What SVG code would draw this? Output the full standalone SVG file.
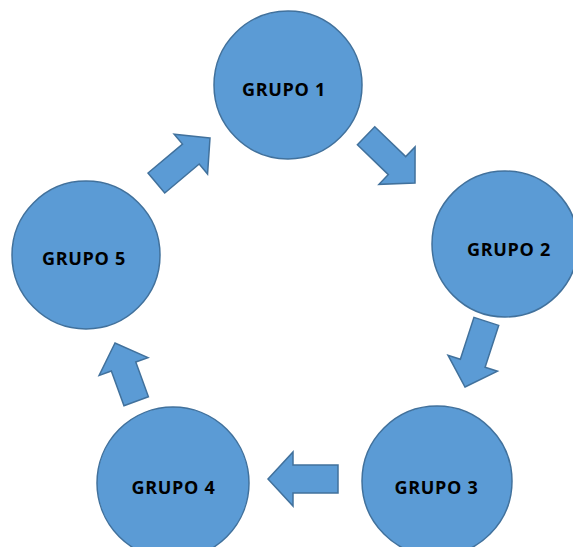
<svg xmlns="http://www.w3.org/2000/svg" width="573" height="547" viewBox="0 0 573 547">
  <defs>
    <style>
      .node circle { fill: #5B9BD5; stroke: #41719C; stroke-width: 1.5; }
      .node text { font-family: "Open Sans", "Liberation Sans", Arial, sans-serif; font-weight: bold; font-size: 18px; letter-spacing: 0.7px; fill: #000; text-anchor: middle; }
      .arrow { fill: #5B9BD5; stroke: #41719C; stroke-width: 1.5; stroke-linejoin: miter; }
    </style>
  </defs>
  <rect width="573" height="547" fill="#fff"/>

  <g id="grupo1" class="node">
    <circle cx="288" cy="85" r="74"/>
    <text x="284" y="96">GRUPO 1</text>
  </g>
  <g id="grupo2" class="node">
    <circle cx="505" cy="244" r="73"/>
    <text x="509" y="256">GRUPO 2</text>
  </g>
  <g id="grupo3" class="node">
    <circle cx="437" cy="481" r="75"/>
    <text x="436.5" y="494">GRUPO 3</text>
  </g>
  <g id="grupo4" class="node">
    <circle cx="173" cy="483" r="76"/>
    <text x="173.5" y="494">GRUPO 4</text>
  </g>
  <g id="grupo5" class="node">
    <circle cx="86" cy="255" r="74"/>
    <text x="84" y="265">GRUPO 5</text>
  </g>

  <g id="connectors">
    <!-- block arrow drawn pointing +x with its tip at the origin -->
    <polygon class="arrow" transform="translate(415,183) rotate(44)" points="0,0 -25,-26 -25,-12.5 -68,-12.5 -68,12.5 -25,12.5 -25,26"/>
    <polygon class="arrow" transform="translate(465,387) rotate(108)" points="0,0 -25,-26 -25,-13 -69,-13 -69,13 -25,13 -25,26"/>
    <polygon class="arrow" transform="translate(268,479) rotate(180)" points="0,0 -25,-27 -25,-14 -70,-14 -70,14 -25,14 -25,27"/>
    <polygon class="arrow" transform="translate(115,343) rotate(-110)" points="0,0 -25,-26 -25,-13 -62,-13 -62,13 -25,13 -25,26"/>
    <polygon class="arrow" transform="translate(210,138) rotate(-40)" points="0,0 -25,-26 -25,-13 -70,-13 -70,13 -25,13 -25,26"/>
  </g>
</svg>
